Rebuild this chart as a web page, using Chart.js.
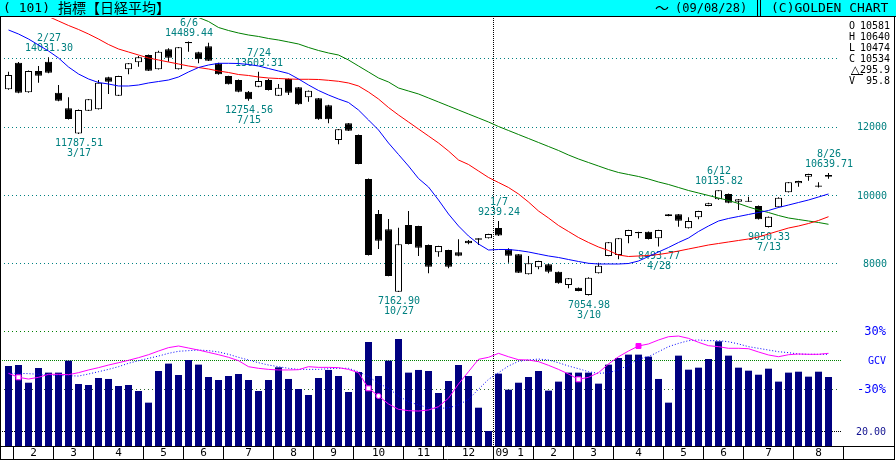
<!DOCTYPE html>
<html>
<head>
<meta charset="utf-8">
<script src="https://cdn.jsdelivr.net/npm/chart.js@4.4.1/dist/chart.umd.min.js"></script>
<style>
  html, body { margin: 0; padding: 0; background: #ffffff; }
  canvas { display: block; }
</style>
</head>
<body>
<canvas id="c" width="896" height="460"></canvas>
<script>
// Nikkei 225 weekly candles (index 0 = week of 2008/01/28, last = week ending 2009/08/28)
const opens = [
  13093, 13872, 13005, 13629, 13901, 12993, 12537, 11800, 12467, 12508,
  13444, 12906, 13678, 13883, 14097, 13678, 14264, 13678, 14480, 14176,
  14350, 13854, 13482, 13365, 13023, 13169, 13365, 12906, 13394, 13152,
  12859, 12830, 12625, 11609, 12098, 11755, 10467, 9443, 8995, 7170,
  9121, 9092, 8536, 8322, 8389, 8322, 8662, 8730, 8732, 9035,
  8410, 8263, 7678, 7883, 7971, 7754, 7365, 7286, 7072, 7707,
  8214, 8243, 8799, 8915, 8925, 8732, 9385, 9434, 9024, 9346,
  9677, 9873, 10028, 9803, 9830, 9677, 9060, 9639, 10078, 10342,
  10535, 10275, 10581
];
const highs = [
  13608, 13890, 13640, 13775, 14031.30, 13219, 12859, 12500, 12810, 13365,
  13460, 13490, 13860, 14068, 14110, 14223, 14293, 14330, 14489.44, 14190,
  14457, 13870, 13490, 13380, 13040, 13603.31, 13400, 13248, 13410, 13160,
  13060, 12840, 12640, 11930, 12110, 11770, 10480, 9560, 9297, 9042,
  9531, 9100, 8550, 8515, 8400, 8702, 8682, 8735, 8865, 9239.24,
  8439, 8270, 8214, 8075, 7980, 7760, 7570, 7295, 7590, 8018,
  8625, 8740, 8985, 8920, 8930, 8985, 9440, 9440, 9346, 9540,
  9770, 10135.82, 10040, 9880, 9950, 9690, 9370, 9930, 10380, 10415,
  10620, 10371, 10639.71
];
const lows = [
  13080, 12980, 12995, 13286, 13560, 12740, 12210, 11787.51, 12460, 12500,
  12955, 12900, 13532, 13754, 13630, 13670, 13901, 13670, 14194, 13854,
  13920, 13520, 13230, 13010, 12754.56, 13150, 13060, 12900, 12926, 12640,
  12730, 12200, 12098, 11483, 11870, 10900, 8230, 8419, 7620, 7162.90,
  8550, 8214, 7707, 8193, 7854, 8210, 8556, 8536, 8725, 8800,
  8018, 7715, 7670, 7824, 7707, 7405, 7268, 7180, 7054.98, 7700,
  8205, 8117, 8585, 8732, 8700, 8493.77, 9380, 9071, 9020, 9288,
  9670, 9860, 9760, 9560, 9800, 9280, 9050.33, 9630, 10070, 10242,
  10418, 10220, 10474
];
const closes = [
  13512, 12993, 13629, 13491, 13579, 12759, 12224, 12487, 12800, 13286,
  13315, 13482, 13854, 14030, 13637, 14194, 14018, 14322, 14440, 13971,
  13930, 13532, 13239, 13023, 12800, 13336, 13073, 13140, 12993, 12654,
  13052, 12215, 12215, 11922, 11881, 10906, 8243, 8662, 7628, 8556,
  8565, 8457, 7900, 8506, 7900, 8222, 8585, 8690, 8858, 8815,
  8222, 7725, 8000, 8067, 7754, 7415, 7561, 7189, 7579, 7930,
  8615, 8732, 8975, 8880, 8711, 8975, 9434, 9247, 9238, 9531,
  9756, 10135, 9774, 9873, 9800, 9288, 9364, 9920, 10371, 10409,
  10614, 10238.1, 10534
];
// weekly volume (hundred-million shares)
const volumes = [
  111.1, 112.5, 87.9, 108.3, 101.9, 101.9, 118.5, 86.1, 84.7, 94.4,
  93.1, 83.3, 84.7, 76.4, 60.2, 104.2, 114.4, 98.6, 119.4, 113,
  95.8, 91.7, 97.2, 100, 91.7, 76.4, 91.7, 109.3, 93.1, 79.2,
  70.8, 94.4, 105.6, 97.2, 75, 102.8, 144.4, 97.2, 118.5, 148.6,
  101.9, 105.6, 104.2, 73.6, 90.3, 112.5, 97.2, 53.2, 20.8, 100.5,
  78.2, 87.9, 95.8, 104.2, 76.9, 89.4, 101.9, 101.9, 101.9, 86.6,
  113, 122.2, 126.9, 126.9, 124.1, 93.1, 60.2, 125.5, 106, 108.8,
  120.8, 145.4, 125.5, 108.8, 104.6, 99, 107.4, 89.4, 101.9, 103.2,
  96.3, 103.2, 95.8
];
// moving averages (short / medium / long), each starting at its own week index
const maShortStart = 0;
const maShort = [
  14829, 14712, 14565, 14390, 14214, 14009, 13746, 13541, 13395, 13292,
  13248, 13190, 13190, 13219, 13278, 13321, 13365, 13453, 13600, 13731,
  13804, 13854, 13854, 13848, 13819, 13775, 13702, 13629, 13556, 13395,
  13219, 13058, 12926, 12809, 12707, 12487, 12195, 11902, 11521, 11185,
  10848, 10482, 10233, 9853, 9443, 9092, 8799, 8565, 8389, 8404,
  8404, 8375, 8331, 8272, 8214, 8170, 8111, 8053, 8000, 7980,
  7980, 7980, 7994, 8067, 8199, 8331, 8463, 8609, 8741, 8931,
  9092, 9238, 9312, 9370, 9429, 9487, 9546, 9634, 9706, 9780,
  9853, 9941, 10029
];
const maMidStart = 4;
const maMid = [
  15224, 15092, 14961, 14844, 14712, 14565,
  14404, 14273, 14185, 14097, 14009, 13951, 13892, 13834, 13775, 13731,
  13687, 13629, 13585, 13526, 13497, 13453, 13424, 13409, 13395, 13386,
  13386, 13380, 13356, 13327, 13278, 13190, 13014, 12809, 12560, 12341,
  12136, 11931, 11726, 11521, 11287, 11024, 10892, 10702, 10512, 10365,
  10219, 10029, 9794, 9531, 9326, 9107, 8931, 8755, 8609, 8477,
  8375, 8243, 8199, 8214, 8228, 8258, 8302, 8360, 8419, 8477,
  8536, 8580, 8624, 8668, 8712, 8770, 8858, 8946, 9033, 9092,
  9165, 9253, 9364
];
const maLongStart = 19;
const maLong = [
  15195, 15078,
  14902, 14814, 14741, 14682, 14639, 14580, 14536, 14478, 14419,
  14317, 14229, 14156, 14097, 13951, 13775, 13600, 13424, 13307, 13131,
  13043, 12956, 12839, 12722, 12604, 12487, 12370, 12253, 12136, 12004,
  11887, 11770, 11653, 11536, 11419, 11302, 11170, 11053, 10950, 10848,
  10745, 10658, 10599, 10541, 10467, 10380, 10307, 10219, 10131, 10058,
  9985, 9911, 9838, 9751, 9648, 9560, 9487, 9399, 9326, 9282,
  9238, 9194, 9142
];
// GCV oscillator (%) and its signal line
const gcv = [
  -13.8, -17.9, -19.7, -17.9, -14.8, -14.8, -15.2, -13.1, -10.3, -7.9,
  -5.2, -2.8, -0.3, 2.4, 5.5, 9.3, 12.8, 14.5, 12.4, 10.3,
  7.9, 5.5, 2.8, -0.7, -6.9, -8.6, -9.7, -10.3, -10.3, -10,
  -6.9, -7.6, -7.6, -7.9, -9.7, -13.1, -29.3, -37.2, -45.5, -51,
  -52.4, -52.8, -51.7, -48.3, -39.5, -24.8, -12.1, 0.7, 2.8, 6.9,
  3.4, 0.3, 0, -1.7, -5.5, -9.7, -14.5, -20, -17.9, -13.1,
  -4.1, 3.4, 9.3, 14.5, 16.6, 20.7, 24.1, 24.8, 22.4, 18.3,
  14.8, 13.8, 12.1, 12.1, 11.7, 8.3, 5.2, 3.4, 5.5, 6.2,
  5.9, 5.9, 6.9
];
const gcvSignal = [
  -13.8, -13.8, -14.1, -14.8, -15.5, -16.2, -16.2, -16.6, -14.5, -12.1,
  -9.7, -6.9, -3.4, -0.7, 1.7, 4.1, 6.9, 9, 9.7, 10.3,
  9.7, 8.3, 5.9, 2.8, 0, -2.8, -5.2, -6.9, -8.6, -9.7,
  -9.7, -9.7, -9, -8.6, -8.6, -12.1, -17.2, -24.1, -29.3, -37.2,
  -43.1, -46.5, -49.3, -50, -49.5, -46.5, -40.7, -30.3, -20, -13.1,
  -6.2, -1.4, 0, 1, 0, -2.8, -6.2, -9, -12.1, -13.8,
  -13.1, -10.3, -5.2, 1, 3.4, 8.6, 13.8, 17.2, 20, 20.7,
  20, 20, 18.9, 16.6, 13.8, 12.1, 10.3, 8.6, 7.6, 6.2,
  5.9, 5.9, 5.9
];
// signal markers on the GCV line: week index -> kind
const gcvMarkers = { 1: 'openSquare', 36: 'openSquare', 37: 'openCircle', 57: 'openSquare', 63: 'solidSquare' };

// annotated highs / lows
const notes = [
  { i: 4, at: 'high', date: '2/27' },
  { i: 7, at: 'low', date: '3/17' },
  { i: 18, at: 'high', date: '6/6' },
  { i: 24, at: 'low', date: '7/15' },
  { i: 25, at: 'high', date: '7/24' },
  { i: 39, at: 'low', date: '10/27' },
  { i: 49, at: 'high', date: '1/7' },
  { i: 58, at: 'low', date: '3/10' },
  { i: 65, at: 'low', date: '4/28' },
  { i: 71, at: 'high', date: '6/12' },
  { i: 76, at: 'low', date: '7/13' },
  { i: 82, at: 'high', date: '8/26' }
];

// axis ticks
const priceTicks = [14000, 12000, 10000, 8000];
const priceTickLabels = [12000, 10000, 8000];
const gcvTicks = [30, 0, -30];
const gcvTickLabels = ['30%', 'GCV', '-30%'];
const volTick = 20;
const monthStarts = [1, 5, 9, 14, 18, 22, 27, 31, 35, 40, 44, 49, 53, 57, 61, 66, 70, 74, 79, 84];
const monthNames = ['2', '3', '4', '5', '6', '7', '8', '9', '10', '11', '12', '1', '2', '3', '4', '5', '6', '7', '8'];
const yearStart = 49;
const yearLabel = '09';

const N = closes.length;
const idx = closes.map((_, i) => i);

const MONO = '"DejaVu Sans Mono", "Liberation Mono", monospace';
const TEAL = '#008080';

function hDotted(ctx, x0, x1, y, color, dash) {
  ctx.save();
  ctx.strokeStyle = color;
  ctx.lineWidth = 1;
  ctx.setLineDash(dash);
  ctx.beginPath();
  ctx.moveTo(x0, y);
  ctx.lineTo(x1, y);
  ctx.stroke();
  ctx.restore();
}
function line(ctx, x0, y0, x1, y1, color) {
  ctx.save();
  ctx.strokeStyle = color;
  ctx.lineWidth = 1;
  ctx.beginPath();
  ctx.moveTo(x0, y0);
  ctx.lineTo(x1, y1);
  ctx.stroke();
  ctx.restore();
}

const decor = {
  id: 'decor',
  beforeDraw(chart) {
    const ctx = chart.ctx;
    ctx.save();
    ctx.fillStyle = '#ffffff';
    ctx.fillRect(0, 0, chart.width, chart.height);
    // title bar
    ctx.fillStyle = '#00ffff';
    ctx.fillRect(0, 0, chart.width, 16);
    ctx.fillStyle = '#000000';
    ctx.fillRect(0, 16, chart.width, 1);
    ctx.fillRect(757, 0, 1, 16);
    ctx.fillRect(760, 0, 1, 16);
    ctx.textBaseline = 'middle';
    ctx.textAlign = 'left';
    ctx.font = '13px ' + MONO;
    ctx.fillText('( 101)', 3, 9);
    ctx.font = '14px "Noto Sans CJK JP"';
    ctx.fillText('指標【日経平均】', 58, 8);
    ctx.fillText('～', 655, 8);
    ctx.font = '12px ' + MONO;
    ctx.fillText('(09/08/28)', 675, 9);
    ctx.font = '13px ' + MONO;
    ctx.fillText('(C)GOLDEN CHART', 771, 9);
    ctx.restore();
  },
  beforeDatasetsDraw(chart) {
    const { ctx, scales } = chart;
    const sx = scales.x, sy = scales.y, sv = scales.yv, sg = scales.yg;
    // price grid
    priceTicks.forEach(v => hDotted(ctx, 0, 838, Math.round(sy.getPixelForValue(v)) + 0.5, TEAL, [1, 3]));
    // oscillator / volume grid
    hDotted(ctx, 0, 839, Math.round(sg.getPixelForValue(30)) + 0.5, '#008000', [1, 3]);
    hDotted(ctx, 0, 841, Math.round(sg.getPixelForValue(0)) + 0.5, '#008000', [1, 1]);
    hDotted(ctx, 0, 839, Math.round(sg.getPixelForValue(-30)) + 0.5, '#306830', [1, 3]);
    hDotted(ctx, 0, 841, Math.floor(sv.getPixelForValue(volTick)) + 0.5, '#000000', [1, 1]);
    // year divider
    const yx = Math.floor(sx.getPixelForValue(yearStart - 0.5)) + 0.5;
    ctx.save();
    ctx.strokeStyle = '#000000';
    ctx.lineWidth = 1;
    ctx.setLineDash([1, 1]);
    ctx.beginPath();
    ctx.moveTo(yx, chart.chartArea.top);
    ctx.lineTo(yx, chart.chartArea.bottom);
    ctx.stroke();
    ctx.restore();
    // high / low notes
    ctx.save();
    ctx.fillStyle = TEAL;
    ctx.font = '10px ' + MONO;
    ctx.textAlign = 'center';
    ctx.textBaseline = 'middle';
    notes.forEach(n => {
      const x = sx.getPixelForValue(n.i) + 0.5;
      if (n.at === 'high') {
        const y = sy.getPixelForValue(highs[n.i]);
        ctx.fillText(highs[n.i].toFixed(2), x, y - 8.5);
        ctx.fillText(n.date, x, y - 18.5);
      } else {
        const y = sy.getPixelForValue(lows[n.i]);
        ctx.fillText(lows[n.i].toFixed(2), x, y + 10);
        ctx.fillText(n.date, x, y + 20);
      }
    });
    ctx.restore();
  },
  afterDraw(chart) {
    const { ctx, scales } = chart;
    const sx = scales.x, sy = scales.y, sv = scales.yv, sg = scales.yg;
    // frame
    line(ctx, 0.5, 17, 0.5, 460, '#000000');
    line(ctx, 894.5, 17, 894.5, 460, '#000000');
    // month axis row
    line(ctx, 0, 446.5, 895, 446.5, '#000000');
    line(ctx, 0, 459.5, 895, 459.5, '#000000');
    ctx.save();
    ctx.fillStyle = '#000000';
    ctx.font = '11px ' + MONO;
    ctx.textBaseline = 'middle';
    const sep = monthStarts.map(m => Math.floor(sx.getPixelForValue(m - 0.5)) + 0.5);
    sep.forEach(x => line(ctx, x, 446, x, 459, '#000000'));
    for (let k = 0; k < monthNames.length; k++) {
      let cx = (sep[k] + sep[k + 1]) / 2;
      if (monthStarts[k] === yearStart) {
        ctx.textAlign = 'left';
        ctx.fillText(yearLabel, sep[k] + 2, 453);
        cx += 7;
      }
      ctx.textAlign = 'center';
      ctx.fillText(monthNames[k], cx, 453);
    }
    ctx.restore();
    // right-hand scale labels
    ctx.save();
    ctx.textBaseline = 'middle';
    ctx.textAlign = 'right';
    ctx.font = '10px ' + MONO;
    ctx.fillStyle = TEAL;
    priceTickLabels.forEach(v => ctx.fillText(String(v), 887, sy.getPixelForValue(v) + 1));
    ctx.fillStyle = '#0000ff';
    ctx.font = '11px ' + MONO;
    gcvTicks.forEach((v, k) => {
      ctx.font = (gcvTickLabels[k] === 'GCV' ? '10px ' : '12px ') + MONO;
      ctx.fillText(gcvTickLabels[k], 886, sg.getPixelForValue(v) + 1);
    });
    ctx.fillStyle = '#101090';
    ctx.font = '10px ' + MONO;
    ctx.fillText(volTick.toFixed(2), 886, sv.getPixelForValue(volTick) + 1);
    // latest week summary
    const last = N - 1;
    const rows = [
      ['O', String(Math.round(opens[last]))],
      ['H', String(Math.round(highs[last]))],
      ['L', String(Math.round(lows[last]))],
      ['C', String(Math.round(closes[last]))],
      ['△', (closes[last] - closes[last - 1]).toFixed(1)],
      ['V', volumes[last].toFixed(1)]
    ];
    ctx.fillStyle = '#000000';
    rows.forEach((r, k) => {
      const y = 26 + k * 11;
      ctx.textAlign = 'left';
      if (r[0] === '△') {
        ctx.font = '11px "DejaVu Sans"';
        ctx.fillText(r[0], 851, y);
        ctx.fillRect(851, y + 4, 12, 1);
      } else {
        ctx.font = '10px ' + MONO;
        ctx.fillText(r[0], 849, y);
      }
      ctx.font = '10px ' + MONO;
      ctx.textAlign = 'right';
      ctx.fillText(r[1], 890, y);
    });
    ctx.restore();
  }
};

const markerStyle = idx.map(i => {
  const m = gcvMarkers[i];
  return m === 'openCircle' ? 'circle' : 'rect';
});
const markerRadius = idx.map(i => {
  const m = gcvMarkers[i];
  if (!m) return 0;
  return m === 'openCircle' ? 2.5 : 3.5;
});
const markerFill = idx.map(i => gcvMarkers[i] === 'solidSquare' ? '#ff00ff' : '#ffffff');

new Chart(document.getElementById('c'), {
  type: 'bar',
  data: {
    datasets: [
      {
        type: 'line', yAxisID: 'yg',
        data: idx.map(i => ({ x: i, y: gcv[i] })),
        borderColor: '#ff00ff', borderWidth: 1, tension: 0,
        pointRadius: markerRadius, pointStyle: markerStyle,
        pointBackgroundColor: markerFill, pointBorderColor: '#ff00ff', pointBorderWidth: 1,
        order: 1
      },
      {
        type: 'line', yAxisID: 'yg',
        data: idx.map(i => ({ x: i, y: gcvSignal[i] })),
        borderColor: '#0000ff', borderWidth: 1, borderDash: [1, 2], tension: 0,
        pointRadius: 0, order: 2
      },
      {
        type: 'line', yAxisID: 'y',
        data: maShort.map((v, k) => ({ x: k + maShortStart, y: v })),
        borderColor: '#0000ff', borderWidth: 1, tension: 0, pointRadius: 0, clip: 0, order: 3
      },
      {
        type: 'line', yAxisID: 'y',
        data: maMid.map((v, k) => ({ x: k + maMidStart, y: v })),
        borderColor: '#ff0000', borderWidth: 1, tension: 0, pointRadius: 0, clip: 0, order: 3
      },
      {
        type: 'line', yAxisID: 'y',
        data: maLong.map((v, k) => ({ x: k + maLongStart, y: v })),
        borderColor: '#008000', borderWidth: 1, tension: 0, pointRadius: 0, clip: 0, order: 3
      },
      {
        type: 'bar', yAxisID: 'y',
        data: idx.map(i => ({ x: i, y: [opens[i], closes[i]] })),
        backgroundColor: idx.map(i => closes[i] >= opens[i] ? '#ffffff' : '#000000'),
        borderColor: '#000000', borderWidth: 1, borderSkipped: false,
        barThickness: 7, grouped: false, inflateAmount: 0, order: 6
      },
      {
        type: 'bar', yAxisID: 'y',
        data: idx.map(i => ({ x: i, y: [lows[i], highs[i]] })),
        backgroundColor: '#000000', borderWidth: 0,
        barThickness: 1, grouped: false, inflateAmount: 0, order: 7
      },
      {
        type: 'bar', yAxisID: 'yv',
        data: idx.map(i => ({ x: i, y: volumes[i] })),
        backgroundColor: '#000080', borderWidth: 0,
        barThickness: 7, grouped: false, inflateAmount: 0, order: 8
      }
    ]
  },
  options: {
    responsive: false,
    animation: false,
    devicePixelRatio: 1,
    events: [],
    layout: { padding: { left: 0, right: 53, top: 18, bottom: 14 } },
    plugins: { legend: { display: false }, tooltip: { enabled: false } },
    scales: {
      x: { type: 'linear', min: -0.85, max: 83.45, offset: false, display: false },
      y: { type: 'linear', min: 2652.4, max: 15180, display: false },
      yv: { type: 'linear', min: 0, max: 594.4, display: false },
      yg: { type: 'linear', min: -88.96, max: 353.8, display: false }
    }
  },
  plugins: [decor]
});
</script>
</body>
</html>
